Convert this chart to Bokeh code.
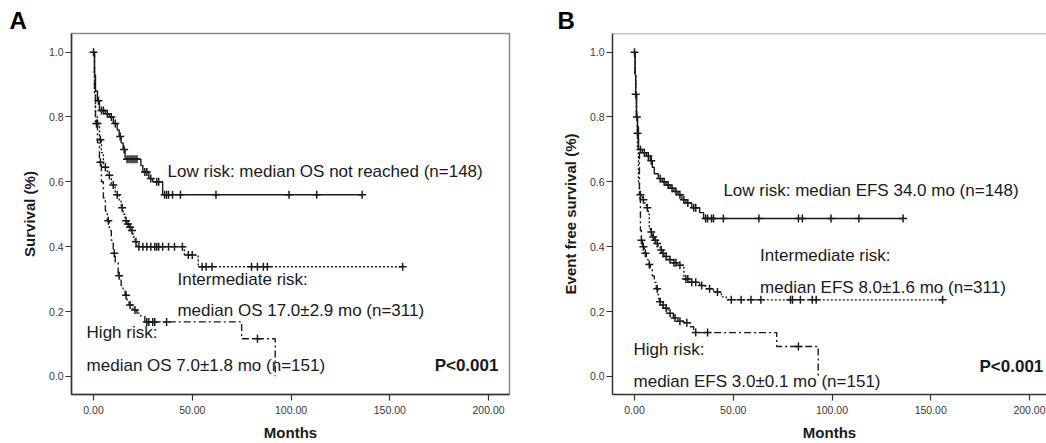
import numpy as np
from bokeh.plotting import figure
from bokeh.layouts import row
from bokeh.models import Range1d, Label, Span, FixedTicker
from bokeh.embed import file_html
from bokeh.resources import INLINE

# ---------------- data ----------------
x_ticks = [0, 50, 100, 150, 200]
x_tick_labels = ["0.00", "50.00", "100.00", "150.00", "200.00"]
y_ticks = [0.0, 0.2, 0.4, 0.6, 0.8, 1.0]
y_tick_labels = ["0.0", "0.2", "0.4", "0.6", "0.8", "1.0"]

# Panel A - overall survival
os_low_t = [0, 0.5, 1, 2, 3, 6, 8, 10, 12, 13, 14, 15, 16, 24, 25, 28, 30, 35, 136]
os_low_s = [1.0, 0.93, 0.88, 0.85, 0.82, 0.81, 0.80, 0.78, 0.76, 0.74, 0.72, 0.70, 0.67, 0.65, 0.63, 0.61, 0.60, 0.56, 0.56]
os_low_cens = [0, 2.5, 4, 5, 7, 9, 11, 13.5, 15.5, 17, 18, 19, 20, 21, 22, 26, 27, 29, 32, 33,
               36, 37, 38, 40, 44, 62, 99, 113, 136]

os_int_t = [0, 0.5, 1, 2, 3, 4, 5, 7, 9, 11, 13, 14, 15, 16, 17, 18, 19, 20, 21, 22, 46, 53, 156.5]
os_int_s = [1.0, 0.88, 0.80, 0.78, 0.73, 0.69, 0.645, 0.62, 0.59, 0.56, 0.54, 0.52, 0.50, 0.48, 0.47,
            0.46, 0.45, 0.43, 0.415, 0.40, 0.374, 0.338, 0.338]
os_int_cens = [2, 3.5, 6, 8, 10, 12, 14.5, 16.5, 17.5, 18.5, 19.5, 21.5, 23, 25, 27, 29, 31, 32, 33,
               35, 38, 41, 45, 48, 50, 55, 57, 60, 80, 83, 86, 88, 156.5]

os_high_t = [0, 0.5, 1, 2, 3, 4, 5, 6, 7, 8, 9, 10, 11, 12.5, 14, 15, 16, 17, 18, 20, 22, 24, 26, 75, 92]
os_high_s = [1.0, 0.87, 0.78, 0.72, 0.66, 0.60, 0.55, 0.51, 0.48, 0.45, 0.42, 0.38, 0.35, 0.31, 0.28,
             0.265, 0.25, 0.235, 0.22, 0.205, 0.195, 0.185, 0.168, 0.116, 0.0]
os_high_cens = [1.5, 3.5, 7.5, 10.5, 13, 16.5, 18.5, 21, 27, 28, 30, 31, 37, 83]

# Panel B - event free survival
efs_low_t = [0, 0.3, 0.6, 1, 1.5, 2, 4, 6, 8, 9, 10, 12, 14, 16, 18, 20, 22, 24, 26, 29, 33, 35, 136]
efs_low_s = [1.0, 0.93, 0.87, 0.80, 0.77, 0.70, 0.69, 0.68, 0.665, 0.645, 0.625, 0.61, 0.60, 0.59,
             0.58, 0.57, 0.56, 0.545, 0.535, 0.52, 0.505, 0.487, 0.487]
efs_low_cens = [0, 0.6, 1.2, 3, 5, 7, 8.5, 13, 15, 17, 19, 21, 23, 25, 27, 30, 31, 36, 37, 39, 40, 45,
                63, 83, 85, 99.5, 113.6, 136]

efs_int_t = [0, 0.3, 0.6, 1, 1.5, 2, 2.5, 4, 5, 6, 7, 7.5, 8, 9, 10, 11, 12, 13, 14, 15, 17, 19, 22,
             25, 28, 33, 36, 40, 44, 46.5, 156]
efs_int_s = [1.0, 0.93, 0.87, 0.80, 0.70, 0.60, 0.56, 0.545, 0.535, 0.52, 0.50, 0.46, 0.445, 0.43,
             0.42, 0.41, 0.40, 0.39, 0.38, 0.37, 0.36, 0.35, 0.343, 0.30, 0.29, 0.28, 0.27, 0.26,
             0.245, 0.236, 0.236]
efs_int_cens = [3, 4.5, 6.5, 8.5, 9.5, 10.5, 11.5, 13.5, 14.5, 16, 18, 20, 21, 23, 26, 27, 29, 31,
                34, 38, 42, 49, 54, 59, 64, 79, 80, 84, 90, 92, 156]

efs_high_t = [0, 0.3, 0.6, 1, 1.5, 2, 2.5, 3, 3.5, 4, 5, 6, 7, 8, 9, 10, 11, 12, 12.6, 14, 15, 17,
              19.7, 22, 25, 28, 30, 72, 93]
efs_high_s = [1.0, 0.93, 0.87, 0.80, 0.75, 0.70, 0.55, 0.45, 0.42, 0.40, 0.38, 0.36, 0.345, 0.33,
              0.31, 0.29, 0.27, 0.24, 0.23, 0.22, 0.21, 0.195, 0.18, 0.17, 0.165, 0.153, 0.135,
              0.092, 0.0]
efs_high_cens = [1.5, 3.5, 4.5, 5.5, 7.5, 11.5, 13, 14.5, 16, 18, 20.5, 23, 26.5, 31, 37, 83]

# ---------------- helpers ----------------
FONT = "Liberation Sans"
INK = "#1a1a1a"
X0, X1 = -11.14, 210.6
Y0, Y1 = -0.056, 1.0575


def cens_y(times, t, s):
    t = np.asarray(t, dtype=float)
    s = np.asarray(s, dtype=float)
    idx = np.searchsorted(t, np.asarray(times, dtype=float), side="right") - 1
    return s[np.clip(idx, 0, len(s) - 1)]


def make_fig(width, border_left, border_right, ylabel, x_end, panel, title_offset):
    p = figure(width=width, height=443, x_range=Range1d(X0, x_end), y_range=Range1d(Y0, Y1),
               output_backend="svg", toolbar_location=None,
               min_border_left=border_left, min_border_right=border_right,
               min_border_top=33, min_border_bottom=48)
    p.title.text = panel
    p.title.text_font = FONT
    p.title.text_font_size = "24px"
    p.title.text_font_style = "bold"
    p.title.text_color = "#000000"
    p.title.align = "left"
    p.title.offset = title_offset
    p.title.standoff = 0
    p.grid.visible = False
    p.background_fill_color = "white"
    p.border_fill_color = "white"
    p.outline_line_color = "#8c8c8c"
    p.outline_line_width = 1.5
    p.xaxis.ticker = FixedTicker(ticks=x_ticks)
    p.xaxis.major_label_overrides = dict(zip(x_ticks, x_tick_labels))
    p.yaxis.ticker = FixedTicker(ticks=y_ticks)
    p.yaxis.major_label_overrides = dict(zip(y_ticks, y_tick_labels))
    for ax in (p.xaxis[0], p.yaxis[0]):
        ax.axis_line_color = "#333333"
        ax.axis_line_width = 1.5
        ax.major_tick_line_color = "#333333"
        ax.major_tick_line_width = 1.2
        ax.major_tick_in = 0
        ax.major_tick_out = 6
        ax.minor_tick_line_color = None
        ax.major_label_text_font = FONT
        ax.major_label_text_font_size = "10.5px"
        ax.major_label_text_color = "#3a3a3a"
        ax.axis_label_text_font = FONT
        ax.axis_label_text_font_size = "15px"
        ax.axis_label_text_font_style = "bold"
        ax.axis_label_text_color = INK
    p.xaxis.axis_label = "Months"
    p.xaxis.major_label_standoff = 5
    p.xaxis.axis_label_standoff = 7
    p.yaxis.axis_label = ylabel
    p.yaxis.major_label_standoff = 2
    p.yaxis.axis_label_standoff = 8
    return p


def add_curves(p, curves):
    for t, s, cens, dash in curves:
        p.step(t, s, mode="after", line_color=INK, line_width=1.4, line_dash=dash)
        p.scatter(cens, cens_y(cens, t, s), marker="cross", size=8, line_color=INK, line_width=1.5)


def add_text(p, x, y, text, bold=False, align="left", size="17px"):
    p.add_layout(Label(x=x, y=y, text=text, text_font=FONT, text_font_size=size,
                       text_font_style="bold" if bold else "normal", text_color=INK,
                       text_align=align, text_baseline="middle"))


# ---------------- panel A ----------------
pA = make_fig(540, 71, 31, "Survival (%)", X1, "A", -62)
add_curves(pA, [
    (os_low_t, os_low_s, os_low_cens, "solid"),
    (os_int_t, os_int_s, os_int_cens, "2 2"),
    (os_high_t, os_high_s, os_high_cens, "7 3 2 3"),
])
add_text(pA, 37.5, 0.631, "Low risk: median OS not reached (n=148)")
add_text(pA, 42.5, 0.298, "Intermediate risk:")
add_text(pA, 42.5, 0.203, "median OS 17.0±2.9 mo (n=311)")
add_text(pA, -3.5, 0.134, "High risk:")
add_text(pA, -3.5, 0.033, "median OS 7.0±1.8 mo (n=151)")
add_text(pA, 205, 0.033, "P<0.001", bold=True, align="right")

# ---------------- panel B ----------------
xB_end = X0 + (506 - 72) / 1.975
pB = make_fig(506, 72, 0, "Event free survival (%)", xB_end, "B", -55)
pB.outline_line_color = None
pB.add_layout(Span(location=Y1, dimension="width", line_color="#8c8c8c", line_width=1.5))
add_curves(pB, [
    (efs_low_t, efs_low_s, efs_low_cens, "solid"),
    (efs_int_t, efs_int_s, efs_int_cens, "2 2"),
    (efs_high_t, efs_high_s, efs_high_cens, "7 3 2 3"),
])
add_text(pB, 45, 0.574, "Low risk: median EFS 34.0 mo (n=148)")
add_text(pB, 63.6, 0.374, "Intermediate risk:")
add_text(pB, 63.6, 0.273, "median EFS 8.0±1.6 mo (n=311)")
add_text(pB, -0.5, 0.082, "High risk:")
add_text(pB, -0.5, -0.015, "median EFS 3.0±0.1 mo (n=151)")
add_text(pB, 207, 0.031, "P<0.001", bold=True, align="right")

layout = row(pA, pB)
open("out.html", "w").write(file_html(layout, INLINE))
